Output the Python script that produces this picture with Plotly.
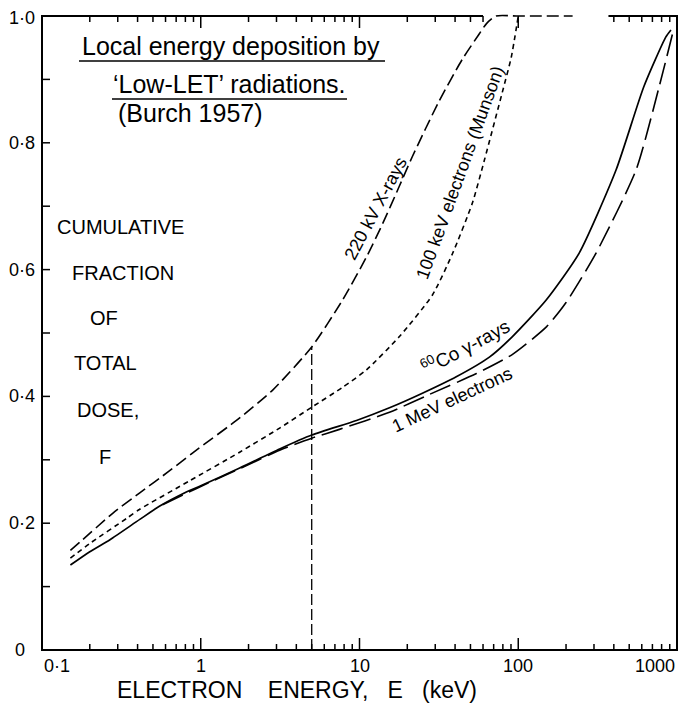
import math
import plotly.graph_objects as go

# ---------------- data ----------------
# 220 kV X-rays
E_220KV = [0.151, 0.173, 0.280, 0.413, 0.631, 0.891, 1.758, 2.84, 5.0, 7.82, 11.07,
           13.96, 17.78, 21.5, 31.6, 44.5, 56.2, 63.1, 72.4, 100, 220]
F_220KV = [0.157, 0.170, 0.216, 0.248, 0.282, 0.311, 0.366, 0.410, 0.478, 0.552, 0.620,
           0.672, 0.731, 0.778, 0.865, 0.932, 0.970, 0.988, 1.0, 1.0, 1.0]

# 100 keV electrons (Munson)
E_100KEV = [0.151, 0.2, 0.343, 0.413, 0.853, 1.758, 3.14, 5.0, 7.8, 11.07, 17.78, 28.8,
            38.5, 51.4, 61.1, 79.4, 90.4, 100]
F_100KEV = [0.145, 0.168, 0.208, 0.222, 0.267, 0.312, 0.350, 0.383, 0.414, 0.442, 0.494, 0.560,
            0.625, 0.705, 0.772, 0.880, 0.935, 1.0]

# 60Co gamma-rays
E_CO60 = [0.151, 0.2, 0.268, 0.413, 0.552, 0.794, 1.0, 1.758, 3.14, 5.0, 9.57, 15.45,
          24.9, 40.7, 65.8, 91.6, 150, 242, 413, 617, 851, 916]
F_CO60 = [0.134, 0.155, 0.174, 0.206, 0.227, 0.248, 0.259, 0.287, 0.317, 0.339, 0.362, 0.382,
          0.405, 0.431, 0.462, 0.494, 0.552, 0.626, 0.757, 0.888, 0.967, 0.978]

# 1 MeV electrons
E_1MEV = [0.575, 1.0, 1.758, 3.14, 5.0, 7.48, 15.45, 27.5, 54.5, 91.6, 151, 200, 309,
          552, 771, 944]
F_1MEV = [0.229, 0.258, 0.286, 0.315, 0.334, 0.348, 0.375, 0.403, 0.436, 0.466, 0.510, 0.548,
          0.626, 0.757, 0.888, 0.975]

# vertical marker at 5 keV
E_MARK = [5.0, 5.0]
F_MARK = [0.0, 0.478]

X_TICKS = [0.1, 1, 10, 100, 1000]
X_TICK_TEXT = ["0\u00b71", "1", "10", "100", "1000"]
X_MINOR = [m * 10.0 ** k for k in range(-1, 3) for m in range(2, 10)]
Y_TICKS = [0, 0.2, 0.4, 0.6, 0.8, 1.0]
Y_TICK_TEXT = ["0\u00a0\u00a0", "0\u00b72", "0\u00b74", "0\u00b76", "0\u00b78", "1\u00b70"]
Y_MINOR = [0.1, 0.3, 0.5, 0.7, 0.9]
X_RANGE = [0.1, 1000]
Y_FRAME = [0.0, 1.0]
TOP_FRAME_GAP = [60, 370]   # the top frame line is broken here in the original

# ---------------- layout helpers ----------------
FONT = "Liberation Sans, Arial, sans-serif"
W, H = 687, 705
OFF = 8                     # page body margin shifts the figure by 8 px
FR_L, FR_R, FR_T, FR_B = 42, 677, 16, 650   # wanted frame box on screen
PAD = 4                     # plot area extends a few px beyond the frame (no clipping)
PAD_TOP = 8
FW, FH = FR_R - FR_L, FR_B - FR_T
DEC = FW / (math.log10(X_RANGE[1]) - math.log10(X_RANGE[0]))   # px per decade
UNIT = FH / (Y_FRAME[1] - Y_FRAME[0])                            # px per unit F
XR = [math.log10(X_RANGE[0]) - PAD / DEC, math.log10(X_RANGE[1]) + PAD / DEC]
YR = [Y_FRAME[0] - PAD / UNIT, Y_FRAME[1] + PAD_TOP / UNIT]
PL, PR, PT, PB = FR_L - PAD, FR_R + PAD, FR_T - PAD_TOP, FR_B + PAD
PW, PH = PR - PL, PB - PT
ML, MT = PL - OFF, PT - OFF
MR, MB = W - ML - PW, H - MT - PH


def px(x):
    return (x - PL) / PW


def py(y):
    return (PB - y) / PH


def lg(v):
    return math.log10(v)


def xpaper(v):
    """data value on the log axis -> paper fraction"""
    return (lg(v) - XR[0]) / (XR[1] - XR[0])


def ypaper(v):
    return (v - YR[0]) / (YR[1] - YR[0])


fig = go.Figure()
x0, x1 = X_RANGE
yb, yt = Y_FRAME

# frame drawn as a line trace through the axes (top edge broken like the original)
fig.add_trace(go.Scatter(
    x=[TOP_FRAME_GAP[0], x0, x0, x1, x1, TOP_FRAME_GAP[1]],
    y=[yt, yt, yb, yb, yt, yt], mode="lines",
    line=dict(color="black", width=2), hoverinfo="skip", showlegend=False))


def add_curve(E, F, dash, width=1.6):
    fig.add_trace(go.Scatter(
        x=E, y=F, mode="lines",
        line=dict(color="black", width=width, dash=dash, shape="spline", smoothing=0.6),
        hoverinfo="skip", showlegend=False))


add_curve(E_220KV, F_220KV, "12px,5px")
add_curve(E_100KEV, F_100KEV, "5px,4px")
add_curve(E_CO60, F_CO60, "solid", 1.7)
add_curve(E_1MEV, F_1MEV, "22px,7px")
add_curve(E_MARK, F_MARK, "11px,4px", 1.3)

BLACK = dict(color="black", width=1.5)
FRAME = dict(color="black", width=2)
shapes = []

# left, bottom and right frame edges also as paper-referenced lines (never clipped)
shapes.append(dict(type="line", xref="paper", yref="paper",
                   x0=xpaper(x0), x1=xpaper(x0), y0=ypaper(yb), y1=ypaper(yt), line=FRAME))
shapes.append(dict(type="line", xref="paper", yref="paper",
                   x0=xpaper(x1), x1=xpaper(x1), y0=ypaper(yb), y1=ypaper(yt), line=FRAME))
shapes.append(dict(type="line", xref="paper", yref="paper",
                   x0=xpaper(x0), x1=xpaper(x1), y0=ypaper(yb), y1=ypaper(yb), line=FRAME))


def xtick(v, length, top):
    return dict(type="line", xref="x", yref="y", x0=v, x1=v,
                ysizemode="pixel", yanchor=(yt if top else yb),
                y0=0, y1=(-length if top else length), line=BLACK)


def ytick(v, length, right):
    return dict(type="line", xref="x", yref="y", y0=v, y1=v,
                xsizemode="pixel", xanchor=(x1 if right else x0),
                x0=0, x1=(-length if right else length), line=BLACK)


for v in X_TICKS[1:-1]:
    shapes.append(xtick(v, 12, False))
    shapes.append(xtick(v, 12, True))
for v in X_MINOR:
    shapes.append(xtick(v, 6, False))
    if not (TOP_FRAME_GAP[0] < v < TOP_FRAME_GAP[1]):
        shapes.append(xtick(v, 6, True))
for v in Y_TICKS[1:-1] + Y_MINOR:
    shapes.append(ytick(v, 8, False))
    shapes.append(ytick(v, 8, True))

# title underlines
shapes.append(dict(type="line", xref="paper", yref="paper", x0=px(79), x1=px(385),
                   y0=py(61), y1=py(61), line=BLACK))
shapes.append(dict(type="line", xref="paper", yref="paper", x0=px(112), x1=px(347),
                   y0=py(99), y1=py(99), line=BLACK))

ann = []
# x tick labels (annotations on a log axis take log10 positions)
for i, (v, t) in enumerate(zip(X_TICKS, X_TICK_TEXT)):
    anchor = "left" if i == 0 else ("right" if i == len(X_TICKS) - 1 else "center")
    ann.append(dict(x=lg(v), xref="x", y=yb, yref="y", yanchor="top",
                    xanchor=anchor, yshift=-4, text=t, showarrow=False,
                    font=dict(family=FONT, size=18, color="black")))
# y tick labels
for v, t in zip(Y_TICKS, Y_TICK_TEXT):
    ann.append(dict(x=lg(x0), xref="x", y=v, yref="y", xanchor="right", yanchor="middle",
                    xshift=-5, yshift=(-2 if v == yt else 0), text=t, showarrow=False,
                    font=dict(family=FONT, size=18, color="black")))

# x-axis title
ann.append(dict(x=px(297), y=py(690), xref="paper", yref="paper",
                xanchor="center", yanchor="middle",
                text="ELECTRON\u00a0\u00a0\u00a0\u00a0ENERGY,\u00a0\u00a0\u00a0E\u00a0\u00a0\u00a0(keV)",
                showarrow=False, font=dict(family=FONT, size=23, color="black")))

# y-axis title (stacked lines)
for txt, cx, cy in [("CUMULATIVE", 120, 227), ("FRACTION", 123, 273), ("OF", 104, 318),
                    ("TOTAL", 105, 363), ("DOSE,", 108, 410), ("F", 105, 457)]:
    ann.append(dict(x=px(cx), y=py(cy), xref="paper", yref="paper", text=txt,
                    xanchor="center", yanchor="middle",
                    showarrow=False, font=dict(family=FONT, size=20, color="black")))

# title block
for txt, cx, cy in [("Local energy deposition by", 231, 46),
                    ("\u2018Low-LET\u2019 radiations.", 229, 84),
                    ("(Burch 1957)", 190, 113)]:
    ann.append(dict(x=px(cx), y=py(cy), xref="paper", yref="paper", text=txt,
                    xanchor="center", yanchor="middle",
                    showarrow=False, font=dict(family=FONT, size=25, color="black")))

# curve labels (data coordinates)
for txt, e, f, ang, size in [("220 kV X-rays", 12.7, 0.697, -62, 18),
                             ("100 keV electrons (Munson)", 43.0, 0.752, -70, 18),
                             ("<sup>60</sup>Co \u03b3-rays", 46.5, 0.480, -28, 19),
                             ("1 MeV electrons", 38.0, 0.395, -25, 18)]:
    ann.append(dict(x=lg(e), y=f, xref="x", yref="y", text=txt, textangle=ang,
                    xanchor="center", yanchor="middle",
                    showarrow=False, font=dict(family=FONT, size=size, color="black")))

fig.update_layout(
    width=W, height=H,
    margin=dict(l=ML, r=MR, t=MT, b=MB, autoexpand=False),
    paper_bgcolor="white", plot_bgcolor="white",
    font=dict(family=FONT, color="black"),
    xaxis=dict(type="log", range=XR, visible=False),
    yaxis=dict(range=YR, visible=False),
    annotations=ann,
    shapes=shapes,
)

fig.write_html("out.html")
